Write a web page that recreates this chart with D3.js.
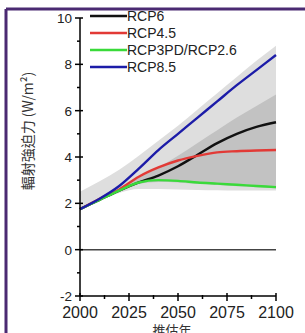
<!DOCTYPE html>
<html>
<head>
<meta charset="utf-8">
<script src="https://cdn.jsdelivr.net/npm/d3@7"></script>
<style>
  body { margin: 0; background: #fff; }
  svg { display: block; }
</style>
</head>
<body>
<div id="container"></div>
<script>
// data
const years = [2000, 2010, 2020, 2030, 2040, 2050, 2060, 2070, 2080, 2090, 2100];
const rcp6 = [1.75, 2.15, 2.55, 2.9, 3.2, 3.6, 4.1, 4.6, 5.0, 5.3, 5.5];
const rcp45 = [1.75, 2.2, 2.6, 3.15, 3.55, 3.85, 4.05, 4.2, 4.25, 4.28, 4.3];
const rcp26 = [1.75, 2.15, 2.55, 2.9, 3.0, 2.97, 2.9, 2.85, 2.8, 2.75, 2.7];
const rcp85 = [1.75, 2.2, 2.75, 3.5, 4.3, 5.0, 5.7, 6.4, 7.1, 7.75, 8.4];

// shaded ranges
const outerHi = [2.5, 2.95, 3.45, 4.05, 4.7, 5.35, 6.05, 6.75, 7.45, 8.15, 8.8];
const outerLo = [1.8, 2.15, 2.45, 2.62, 2.62, 2.6, 2.58, 2.56, 2.55, 2.55, 2.55];
const innerYears = [2020, 2030, 2040, 2050, 2060, 2070, 2080, 2090, 2100];
const innerHi = [2.6, 3.1, 3.55, 4.05, 4.6, 5.15, 5.7, 6.2, 6.7];
const innerLo = [2.55, 2.85, 2.92, 2.9, 2.84, 2.79, 2.74, 2.69, 2.64];

const xTicks = [2000, 2025, 2050, 2075, 2100];
const yTicks = [-2, 0, 2, 4, 6, 8, 10];

const series = [
  {name: 'RCP6', values: rcp6, color: '#111111'},
  {name: 'RCP4.5', values: rcp45, color: '#e23a36'},
  {name: 'RCP3PD/RCP2.6', values: rcp26, color: '#3ada3a'},
  {name: 'RCP8.5', values: rcp85, color: '#1c1ca8'}
];

const width = 305, height = 333;
const svg = d3.select('#container').append('svg')
  .attr('width', width).attr('height', height);

// purple frame (top and left only)
svg.append('line').attr('x1', 6).attr('x2', width).attr('y1', 9).attr('y2', 9)
  .attr('stroke', '#4b2a72').attr('stroke-width', 3);
svg.append('line').attr('x1', 6).attr('x2', 6).attr('y1', 9).attr('y2', height)
  .attr('stroke', '#4b2a72').attr('stroke-width', 3);

const x = d3.scaleLinear().domain([2000, 2100]).range([80, 276]);
const y = d3.scaleLinear().domain([-2, 10]).range([296, 18]);

// bands
const area = d3.area().curve(d3.curveMonotoneX);
svg.append('path')
  .attr('d', area.x((d, i) => x(years[i])).y0((d, i) => y(outerLo[i])).y1(d => y(d))(outerHi))
  .attr('fill', '#dedede');
svg.append('path')
  .attr('d', area.x((d, i) => x(innerYears[i])).y0((d, i) => y(innerLo[i])).y1(d => y(d))(innerHi))
  .attr('fill', '#c2c2c2');

// zero line
svg.append('line')
  .attr('x1', x(2000)).attr('x2', x(2100)).attr('y1', y(0)).attr('y2', y(0))
  .attr('stroke', '#444').attr('stroke-width', 1.5);

// lines
const line = d3.line().x((d, i) => x(years[i])).y(d => y(d)).curve(d3.curveMonotoneX);
series.forEach(s => {
  svg.append('path')
    .attr('d', line(s.values))
    .attr('fill', 'none')
    .attr('stroke', s.color)
    .attr('stroke-width', 2.4);
});

// axes
const font = '"Liberation Sans", Arial, sans-serif';
const yAxis = svg.append('g').attr('transform', `translate(${x(2000)},0)`);
yAxis.append('line').attr('y1', y(-2)).attr('y2', y(10)).attr('stroke', '#000').attr('stroke-width', 1.5);
d3.range(-2, 10.5, 1).forEach(v => {
  const major = v % 2 === 0;
  yAxis.append('line')
    .attr('x1', major ? -5 : -3).attr('x2', major ? 3 : 0)
    .attr('y1', y(v)).attr('y2', y(v))
    .attr('stroke', '#000').attr('stroke-width', 1.5);
});
yAxis.selectAll('.ylab').data(yTicks).enter().append('text')
  .attr('x', -8).attr('y', d => y(d)).attr('dy', '0.36em')
  .attr('text-anchor', 'end')
  .attr('font-family', font).attr('font-size', 13.5).attr('fill', '#222')
  .text(d => d);

const xAxis = svg.append('g').attr('transform', `translate(0,${y(-2)})`);
xAxis.append('line').attr('x1', x(2000)).attr('x2', x(2100)).attr('stroke', '#000').attr('stroke-width', 1.5);
d3.range(2000, 2101, 12.5).forEach(v => {
  const major = v % 25 === 0;
  xAxis.append('line')
    .attr('x1', x(v)).attr('x2', x(v))
    .attr('y1', major ? -3 : -1).attr('y2', major ? 5 : 3)
    .attr('stroke', '#000').attr('stroke-width', 1.5);
});
xAxis.selectAll('.xlab').data(xTicks).enter().append('text')
  .attr('x', d => x(d)).attr('y', 22)
  .attr('text-anchor', 'middle')
  .attr('font-family', font).attr('font-size', 16).attr('fill', '#222')
  .text(d => d);

// axis titles
svg.append('text')
  .attr('transform', `translate(33,131) rotate(-90)`)
  .attr('text-anchor', 'middle')
  .attr('font-family', '"Noto Sans CJK TC", "Noto Sans", sans-serif')
  .attr('font-size', 14).attr('fill', '#333')
  .text('輻射強迫力 (W/m²)');
svg.append('text')
  .attr('x', 172).attr('y', 335)
  .attr('text-anchor', 'middle')
  .attr('font-family', '"Noto Sans CJK TC", sans-serif')
  .attr('font-size', 13).attr('fill', '#333')
  .text('推估年');

// legend
const legend = svg.append('g');
series.forEach((s, i) => {
  const ly = 16 + i * 17;
  legend.append('line')
    .attr('x1', 90).attr('x2', 127).attr('y1', ly).attr('y2', ly)
    .attr('stroke', s.color).attr('stroke-width', 2.4);
  legend.append('text')
    .attr('x', 127).attr('y', ly).attr('dy', '0.36em')
    .attr('font-family', font).attr('font-size', 14).attr('fill', '#222')
    .text(s.name);
});
</script>
</body>
</html>
